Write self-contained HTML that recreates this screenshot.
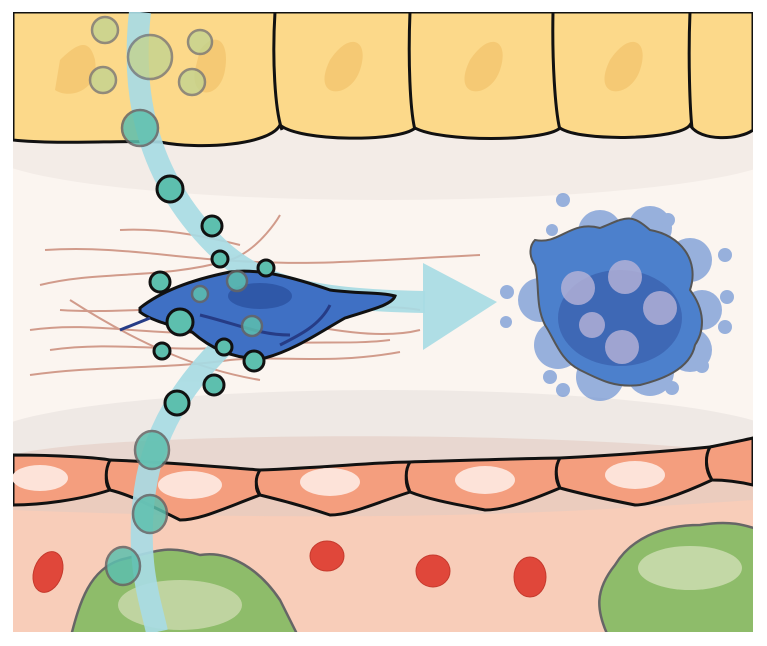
<!DOCTYPE html>
<html><head><meta charset="utf-8"><style>html,body{margin:0;padding:0;background:#fff}svg{display:block}</style></head>
<body>
<svg width="767" height="646" viewBox="0 0 767 646" xmlns="http://www.w3.org/2000/svg">
<defs><clipPath id="c"><rect x="13" y="12" width="740" height="620"/></clipPath></defs>
<rect width="767" height="646" fill="#fff"/>
<g clip-path="url(#c)">
<rect x="13" y="12" width="740" height="620" fill="#fbf5f0"/>
<ellipse cx="385" cy="150" rx="400" ry="50" fill="#f3ece7"/>
<ellipse cx="385" cy="440" rx="400" ry="50" fill="#efe9e5"/>
<path d="M13,12 H753 V130 C740,140 700,142 690,125 C680,140 580,142 560,128 C545,142 440,142 415,128 C400,142 300,142 280,125 C270,145 200,150 160,142 C120,140 60,145 13,140 Z" fill="#fcd98a" stroke="#111" stroke-width="3"/>
<g fill="#f3c46e" opacity="0.8">
<path d="M60,60 C80,40 90,40 95,60 C100,90 70,100 55,90 Z"/>
<path d="M200,50 C215,30 230,40 225,70 C220,100 190,100 195,70 Z"/>
<path d="M330,60 C350,30 370,40 360,70 C350,100 310,100 330,60 Z"/>
<path d="M470,60 C490,30 510,40 500,70 C490,100 450,100 470,60 Z"/>
<path d="M610,60 C630,30 650,40 640,70 C630,100 590,100 610,60 Z"/>
</g>
<g stroke="#111" stroke-width="3" fill="none">
<path d="M275,12 C272,60 275,110 282,130"/><path d="M410,12 C408,60 410,110 415,130"/><path d="M553,12 C552,60 555,110 560,130"/><path d="M690,12 C688,60 690,110 692,128"/>
</g>
<rect x="13" y="470" width="740" height="170" fill="#f8cdb9"/>
<path d="M13,455 C100,430 600,430 753,455 V500 C600,510 400,525 13,510Z" fill="#e2cbc2" opacity="0.6"/>
<g fill="#f49e7e" stroke="#111" stroke-width="3">
<path d="M13,455 C60,455 100,458 110,460 C105,475 105,485 110,490 C80,500 40,505 13,505Z"/>
<path d="M110,460 C170,462 230,468 260,470 C255,482 255,490 260,495 C220,510 200,520 180,520 C150,505 130,495 110,490 C105,480 105,470 110,460Z"/>
<path d="M260,470 C320,468 380,462 410,462 C405,475 405,485 410,492 C370,505 350,515 330,515 C300,505 280,500 260,495 C255,485 255,478 260,470Z"/>
<path d="M410,462 C480,460 540,458 560,458 C555,470 555,480 560,488 C520,505 500,510 485,510 C460,505 430,500 410,492 C405,480 405,470 410,462Z"/>
<path d="M560,458 C620,455 680,450 710,447 C705,458 705,470 712,480 C680,495 650,505 635,505 C610,500 585,495 560,488 C555,476 555,466 560,458Z"/>
<path d="M710,447 C730,443 745,440 753,438 V485 C740,482 725,480 712,480 C705,468 705,456 710,447Z"/>
</g>
<g fill="#fde3d9"><ellipse cx="40" cy="478" rx="28" ry="13"/><ellipse cx="190" cy="485" rx="32" ry="14"/><ellipse cx="330" cy="482" rx="30" ry="14"/><ellipse cx="485" cy="480" rx="30" ry="14"/><ellipse cx="635" cy="475" rx="30" ry="14"/></g>
<g fill="#e0473a" stroke="#c53a2d"><ellipse cx="48" cy="572" rx="14" ry="21" transform="rotate(20 48 572)"/><ellipse cx="327" cy="556" rx="17" ry="15"/><ellipse cx="433" cy="571" rx="17" ry="16"/><ellipse cx="530" cy="577" rx="16" ry="20"/></g>
<g fill="#8ebc6a" stroke="#666" stroke-width="2.5">
<path d="M70,640 C80,600 90,570 120,560 C160,550 170,545 200,555 C230,550 260,570 280,600 C290,620 300,640 300,640Z"/>
<path d="M610,640 C595,610 595,590 615,565 C630,540 660,525 700,525 C730,520 745,525 760,530 V640Z"/>
</g>
<ellipse cx="180" cy="605" rx="62" ry="25" fill="#dfe4c5" opacity="0.6"/>
<ellipse cx="690" cy="568" rx="52" ry="22" fill="#e6ebcf" opacity="0.6"/>
<g stroke="#c47e6a" stroke-width="2" fill="none" opacity="0.75">
<path d="M45,250 C120,245 180,260 260,262 C320,265 380,260 480,255"/>
<path d="M40,285 C100,270 160,280 230,260 C260,250 280,215 280,215"/>
<path d="M120,230 C160,228 200,235 240,245"/>
<path d="M30,330 C100,320 160,340 240,330 C300,320 360,300 420,310"/>
<path d="M60,310 C130,315 200,300 270,318 C330,330 380,340 420,330"/>
<path d="M30,375 C100,365 160,370 230,360 C280,355 330,365 400,352"/>
<path d="M70,300 C140,345 200,370 260,380"/>
<path d="M50,350 C120,340 180,355 250,345 C310,340 350,345 390,340"/>
</g>
<g stroke="#a8dbe4" stroke-width="22" fill="none" opacity="0.92">
<path d="M140,12 C130,100 150,180 215,245 C260,290 320,300 425,302"/>
<path d="M240,330 C195,370 155,420 145,490 C135,560 150,600 157,632"/>
</g>
<polygon points="423,263 497,302 423,350" fill="#a8dbe4" opacity="0.92"/>
<path d="M140,308 C160,292 190,280 230,272 C260,268 295,278 330,290 C360,294 380,292 395,296 C392,305 370,310 345,318 C320,332 295,350 265,358 C240,360 215,352 192,332 C170,325 150,320 140,312Z" fill="#3f70c4" stroke="#111" stroke-width="3"/>
<ellipse cx="260" cy="296" rx="32" ry="13" fill="#2f58a8"/>
<g stroke="#263c86" stroke-width="3" fill="none"><path d="M200,315 C240,325 260,335 290,335"/><path d="M330,305 C320,325 300,335 280,345"/><path d="M150,318 L120,330"/></g>
<g fill="#6d93d4" opacity="0.7">
<circle cx="560" cy="262" r="24"/><circle cx="600" cy="232" r="22"/><circle cx="650" cy="228" r="22"/><circle cx="690" cy="260" r="22"/><circle cx="702" cy="310" r="20"/><circle cx="690" cy="350" r="22"/><circle cx="650" cy="372" r="24"/><circle cx="600" cy="377" r="24"/><circle cx="558" cy="345" r="24"/><circle cx="540" cy="300" r="22"/>
<circle cx="563" cy="200" r="7"/><circle cx="668" cy="220" r="7"/><circle cx="725" cy="255" r="7"/><circle cx="727" cy="297" r="7"/><circle cx="725" cy="327" r="7"/><circle cx="702" cy="366" r="7"/><circle cx="550" cy="377" r="7"/><circle cx="563" cy="390" r="7"/><circle cx="672" cy="388" r="7"/><circle cx="507" cy="292" r="7"/><circle cx="506" cy="322" r="6"/><circle cx="552" cy="230" r="6"/>
</g>
<path d="M535,240 C560,245 570,220 600,228 C625,218 630,212 650,230 C680,235 700,260 690,290 C705,310 705,330 695,345 C690,370 660,380 640,385 C615,388 600,380 580,370 C560,360 555,340 545,325 C535,305 540,285 535,265 C528,255 530,245 535,240Z" fill="#4c80cc" stroke="#555" stroke-width="2"/>
<ellipse cx="620" cy="318" rx="62" ry="48" fill="#3e68b5"/>
<g fill="#b8b4d8" opacity="0.8"><circle cx="578" cy="288" r="17"/><circle cx="625" cy="277" r="17"/><circle cx="660" cy="308" r="17"/><circle cx="592" cy="325" r="13"/><circle cx="622" cy="347" r="17"/></g>
<g fill="#5dbfae" stroke="#111" stroke-width="3">
<circle cx="170" cy="189" r="13"/><circle cx="212" cy="226" r="10"/><circle cx="220" cy="259" r="8"/><circle cx="266" cy="268" r="8"/><circle cx="160" cy="282" r="10"/><circle cx="180" cy="322" r="13"/><circle cx="162" cy="351" r="8"/><circle cx="224" cy="347" r="8"/><circle cx="254" cy="361" r="10"/><circle cx="214" cy="385" r="10"/><circle cx="177" cy="403" r="12"/>
</g>
<g fill="#5dbfae" stroke="#666" stroke-width="2.5" opacity="0.85">
<circle cx="237" cy="281" r="10"/><circle cx="200" cy="294" r="8"/><circle cx="252" cy="326" r="10"/><circle cx="140" cy="128" r="18"/>
<ellipse cx="152" cy="450" rx="17" ry="19"/><ellipse cx="150" cy="514" rx="17" ry="19"/><ellipse cx="123" cy="566" rx="17" ry="19"/>
</g>
<g fill="#c3d38f" stroke="#777" stroke-width="2.5" opacity="0.8">
<circle cx="105" cy="30" r="13"/><circle cx="150" cy="57" r="22"/><circle cx="200" cy="42" r="12"/><circle cx="103" cy="80" r="13"/><circle cx="192" cy="82" r="13"/>
</g>
</g>
</svg>
</body></html>
